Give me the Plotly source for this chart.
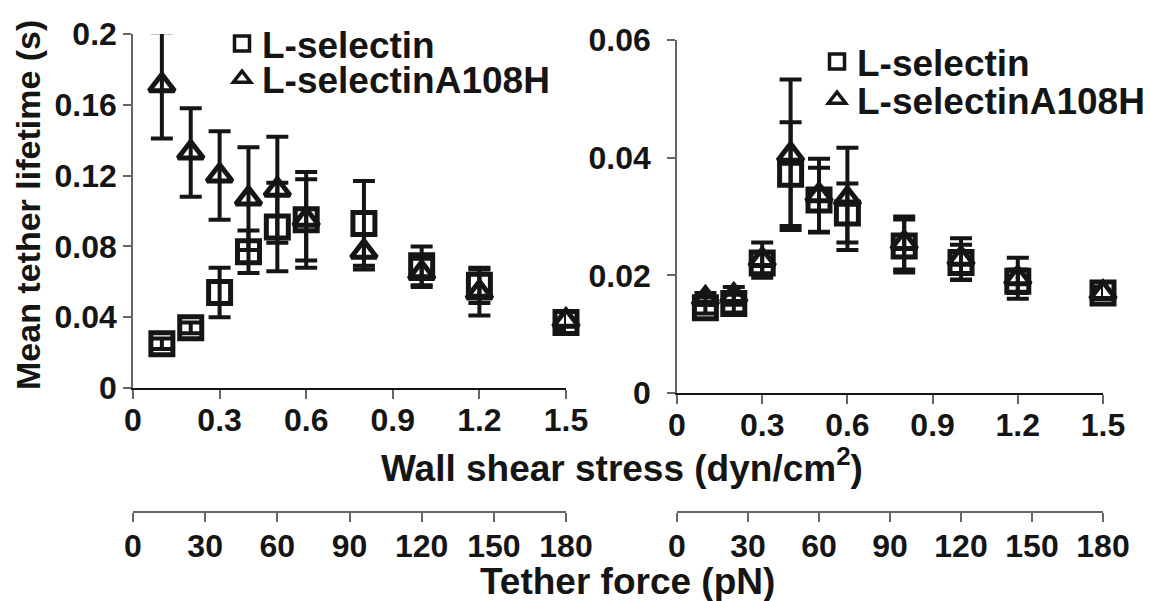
import plotly.graph_objects as go

# ---------------- data ----------------
shear = [0.1, 0.2, 0.3, 0.4, 0.5, 0.6, 0.8, 1.0, 1.2, 1.5]

# left panel
left_lsel = [0.025, 0.034, 0.054, 0.077, 0.091, 0.095, 0.093, 0.069, 0.058, 0.037]
left_lsel_err = [0.003, 0.003, 0.014, 0.012, 0.025, 0.023, 0.024, 0.011, 0.010, 0.006]
left_a108h = [0.171, 0.133, 0.120, 0.107, 0.112, 0.095, 0.077, 0.065, 0.054, 0.038]
left_a108h_err = [0.030, 0.025, 0.025, 0.029, 0.030, 0.027, 0.010, 0.008, 0.013, 0.005]

# right panel
right_lsel = [0.0145, 0.0152, 0.0221, 0.0372, 0.0328, 0.0306, 0.0250, 0.0222, 0.0190, 0.0170]
right_lsel_err = [0.0010, 0.0015, 0.0018, 0.0088, 0.0055, 0.0050, 0.0045, 0.0030, 0.0020, 0.0010]
right_a108h = [0.0160, 0.0165, 0.0226, 0.0405, 0.0336, 0.0330, 0.0255, 0.0228, 0.0195, 0.0170]
right_a108h_err = [0.0010, 0.0015, 0.0030, 0.0128, 0.0062, 0.0087, 0.0045, 0.0035, 0.0035, 0.0010]

series_names = ["L-selectin", "L-selectinA108H"]

shear_ticks = [0, 0.3, 0.6, 0.9, 1.2, 1.5]
shear_ticklabels = ["0", "0.3", "0.6", "0.9", "1.2", "1.5"]
force_ticks = [0, 30, 60, 90, 120, 150, 180]
left_yticks = [0, 0.04, 0.08, 0.12, 0.16, 0.2]
left_yticklabels = ["0", "0.04", "0.08", "0.12", "0.16", "0.2"]
right_yticks = [0, 0.02, 0.04, 0.06]
right_yticklabels = ["0", "0.02", "0.04", "0.06"]

# ---------------- style ----------------
W, H = 1150, 601
INK = "#151515"
AXC = "#666666"
FONT = "Liberation Sans, Arial, Helvetica, sans-serif"


def fx(px):
    return px / W


def fy(py):
    return 1 - py / H


fig = go.Figure()


def add_series(xs, ys, errs, symbol, xa, ya):
    fig.add_trace(go.Scatter(
        x=xs, y=ys, xaxis=xa, yaxis=ya, mode="markers", showlegend=False, cliponaxis=False,
        marker=dict(symbol=symbol, size=22, color=INK, line=dict(width=5, color=INK)),
        error_y=dict(type="data", array=errs, visible=True, color=INK, thickness=4, width=11),
        hoverinfo="x+y",
    ))


add_series(shear, left_lsel, left_lsel_err, "square-open", "x", "y")
add_series(shear, left_a108h, left_a108h_err, "triangle-up-open", "x", "y")
add_series(shear, right_lsel, right_lsel_err, "square-open", "x2", "y2")
add_series(shear, right_a108h, right_a108h_err, "triangle-up-open", "x2", "y2")

# legend-only traces: one legend per entry so each can be placed exactly
legend_slots = [("legend", "x", "y", 0), ("legend3", "x", "y", 1),
                ("legend2", "x2", "y2", 0), ("legend4", "x2", "y2", 1)]
symbols = ["square-open", "triangle-up-open"]
for lg, xa, ya, k in legend_slots:
    fig.add_trace(go.Scatter(
        x=[None], y=[None], xaxis=xa, yaxis=ya, mode="markers", name=series_names[k],
        legend=lg, showlegend=True,
        marker=dict(symbol=symbols[k], size=15, color=INK, line=dict(width=3.5, color=INK)),
    ))

# dummy traces so the tether-force axes are drawn
fig.add_trace(go.Scatter(x=[None], y=[None], xaxis="x3", yaxis="y", showlegend=False, hoverinfo="skip"))
fig.add_trace(go.Scatter(x=[None], y=[None], xaxis="x4", yaxis="y2", showlegend=False, hoverinfo="skip"))

tickfont = dict(family=FONT, size=32, color=INK, weight="bold")

common_x = dict(range=[0, 1.5], tickmode="array", tickvals=shear_ticks, ticktext=shear_ticklabels,
                showline=True, linecolor=INK, linewidth=1.5, ticks="outside", ticklen=9,
                tickcolor=AXC, tickwidth=1.5, showgrid=False, zeroline=False,
                tickfont=tickfont, ticklabelstandoff=-6, fixedrange=True, automargin=False)
common_y = dict(showline=True, linecolor=AXC, linewidth=1.5, ticks="outside", ticklen=8,
                tickcolor=AXC, tickwidth=1.5, showgrid=False, zeroline=False,
                tickfont=tickfont, fixedrange=True, tickmode="array", automargin=False)
force_x = dict(range=[0, 180], tickmode="array", tickvals=force_ticks,
               showline=True, linecolor=AXC, linewidth=1.5, ticks="outside", ticklen=9,
               tickcolor=AXC, tickwidth=1.5, showgrid=False, zeroline=False,
               tickfont=tickfont, ticklabelstandoff=-3, anchor="free", position=fy(512),
               side="bottom", fixedrange=True, automargin=False)


def legend_at(px, py):
    return dict(x=fx(px), y=fy(py), xanchor="left", yanchor="middle",
                font=dict(family=FONT, size=37, color=INK, weight="bold"),
                bgcolor="rgba(0,0,0,0)", borderwidth=0, itemwidth=30, tracegroupgap=0)


fig.update_layout(
    width=W, height=H,
    margin=dict(l=0, r=0, t=0, b=0, autoexpand=False),
    paper_bgcolor="white", plot_bgcolor="white",
    font=dict(family=FONT, color=INK),
    xaxis=dict(domain=[fx(133), fx(566)], anchor="y", **common_x),
    yaxis=dict(domain=[fy(388), fy(34)], anchor="x", range=[0, 0.2],
               tickvals=left_yticks, ticktext=left_yticklabels, **common_y),
    xaxis2=dict(domain=[fx(677), fx(1103)], anchor="y2", **common_x),
    yaxis2=dict(domain=[fy(393), fy(40)], anchor="x2", range=[0, 0.06],
                tickvals=right_yticks, ticktext=right_yticklabels, ticklabelstandoff=10, **common_y),
    xaxis3=dict(overlaying="x", **force_x),
    xaxis4=dict(overlaying="x2", **force_x),
    legend=legend_at(222, 44),
    legend3=legend_at(222, 79),
    legend2=legend_at(817, 62),
    legend4=legend_at(817, 100),
    annotations=[
        dict(text="Wall shear stress (dyn/cm<sup>2</sup>)", xref="paper", yref="paper",
             x=fx(622), y=fy(465), xanchor="center", yanchor="middle", showarrow=False,
             font=dict(family=FONT, size=37, color=INK, weight="bold")),
        dict(text="Tether force (pN)", xref="paper", yref="paper",
             x=fx(627), y=fy(581), xanchor="center", yanchor="middle", showarrow=False,
             font=dict(family=FONT, size=37, color=INK, weight="bold")),
        dict(text="Mean tether lifetime (s)", xref="paper", yref="paper",
             x=fx(28), y=fy(205), xanchor="center", yanchor="middle", showarrow=False,
             textangle=-90, font=dict(family=FONT, size=34, color=INK, weight="bold")),
    ],
)

fig.write_html("out.html")
